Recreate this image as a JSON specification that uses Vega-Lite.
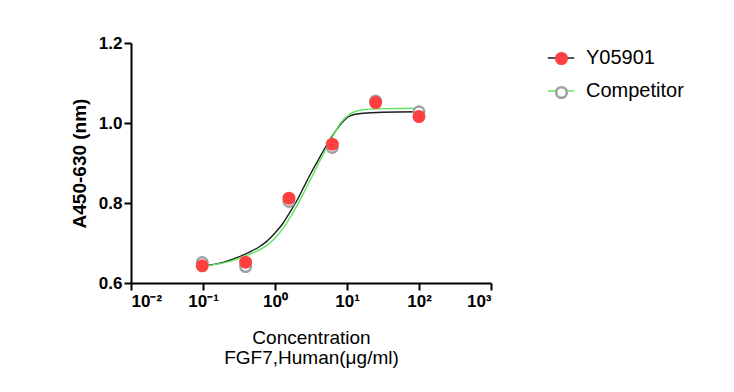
{
  "$schema": "https://vega.github.io/schema/vega-lite/v6.json",
  "width": 360,
  "height": 240,
  "autosize": {"type": "none"},
  "padding": {"left": 131, "top": 43, "right": 243, "bottom": 109},
  "background": "white",
  "config": {
    "view": {"stroke": null},
    "font": "Liberation Sans",
    "axis": {
      "domainColor": "black", "domainWidth": 2, "tickColor": "black", "tickWidth": 2, "tickSize": 7,
      "grid": false, "labelFont": "Liberation Sans", "labelFontWeight": "bold", "labelFontSize": 17,
      "labelColor": "black", "titleFont": "Liberation Sans", "titleColor": "black", "titleFontSize": 19
    }
  },
  "datasets": {
    "curves": [
      {"conc": 0.0977, "value": 0.643, "curve": "Y05901"},
      {"conc": 0.125, "value": 0.645, "curve": "Y05901"},
      {"conc": 0.2, "value": 0.653, "curve": "Y05901"},
      {"conc": 0.3, "value": 0.664, "curve": "Y05901"},
      {"conc": 0.45, "value": 0.678, "curve": "Y05901"},
      {"conc": 0.6, "value": 0.69, "curve": "Y05901"},
      {"conc": 0.767, "value": 0.704, "curve": "Y05901"},
      {"conc": 1.0, "value": 0.725, "curve": "Y05901"},
      {"conc": 1.3, "value": 0.75, "curve": "Y05901"},
      {"conc": 1.6, "value": 0.776, "curve": "Y05901"},
      {"conc": 2.0, "value": 0.805, "curve": "Y05901"},
      {"conc": 2.5, "value": 0.839, "curve": "Y05901"},
      {"conc": 3.06, "value": 0.87, "curve": "Y05901"},
      {"conc": 4.0, "value": 0.908, "curve": "Y05901"},
      {"conc": 5.22, "value": 0.945, "curve": "Y05901"},
      {"conc": 7.08, "value": 0.982, "curve": "Y05901"},
      {"conc": 8.0, "value": 0.995, "curve": "Y05901"},
      {"conc": 11.0, "value": 1.018, "curve": "Y05901"},
      {"conc": 16.7, "value": 1.0245, "curve": "Y05901"},
      {"conc": 31.6, "value": 1.027, "curve": "Y05901"},
      {"conc": 100, "value": 1.028, "curve": "Y05901"},
      {"conc": 0.0977, "value": 0.642, "curve": "Competitor"},
      {"conc": 0.2, "value": 0.651, "curve": "Competitor"},
      {"conc": 0.3, "value": 0.66, "curve": "Competitor"},
      {"conc": 0.45, "value": 0.672, "curve": "Competitor"},
      {"conc": 0.767, "value": 0.694, "curve": "Competitor"},
      {"conc": 1.0, "value": 0.712, "curve": "Competitor"},
      {"conc": 1.3, "value": 0.737, "curve": "Competitor"},
      {"conc": 1.6, "value": 0.762, "curve": "Competitor"},
      {"conc": 2.0, "value": 0.792, "curve": "Competitor"},
      {"conc": 2.5, "value": 0.825, "curve": "Competitor"},
      {"conc": 3.06, "value": 0.856, "curve": "Competitor"},
      {"conc": 4.0, "value": 0.898, "curve": "Competitor"},
      {"conc": 5.22, "value": 0.938, "curve": "Competitor"},
      {"conc": 7.08, "value": 0.982, "curve": "Competitor"},
      {"conc": 8.0, "value": 0.998, "curve": "Competitor"},
      {"conc": 11.0, "value": 1.022, "curve": "Competitor"},
      {"conc": 16.7, "value": 1.033, "curve": "Competitor"},
      {"conc": 31.6, "value": 1.036, "curve": "Competitor"},
      {"conc": 100, "value": 1.037, "curve": "Competitor"}
    ],
    "points": [
      {"conc": 0.09765625, "value": 0.651, "series": "Competitor"},
      {"conc": 0.390625, "value": 0.641, "series": "Competitor"},
      {"conc": 1.5625, "value": 0.804, "series": "Competitor"},
      {"conc": 6.25, "value": 0.939, "series": "Competitor"},
      {"conc": 25, "value": 1.055, "series": "Competitor"},
      {"conc": 100, "value": 1.028, "series": "Competitor"},
      {"conc": 0.09765625, "value": 0.643, "series": "Y05901"},
      {"conc": 0.390625, "value": 0.652, "series": "Y05901"},
      {"conc": 1.5625, "value": 0.812, "series": "Y05901"},
      {"conc": 6.25, "value": 0.947, "series": "Y05901"},
      {"conc": 25, "value": 1.051, "series": "Y05901"},
      {"conc": 100, "value": 1.016, "series": "Y05901"}
    ]
  },
  "encoding": {
    "x": {
      "field": "conc", "type": "quantitative",
      "scale": {"type": "log", "domain": [0.01, 1000]},
      "axis": {
        "values": [0.01, 0.1, 1, 10, 100, 1000],
        "labelExpr": "datum.value < 0.05 ? '10⁻²' : datum.value < 0.5 ? '10⁻¹' : datum.value < 5 ? '10⁰' : datum.value < 50 ? '10¹' : datum.value < 500 ? '10²' : '10³'",
        "title": ["Concentration", "FGF7,Human(μg/ml)"],
        "titleFontWeight": "normal", "titleLineHeight": 20, "titlePadding": 19, "labelPadding": 3
      }
    },
    "y": {
      "field": "value", "type": "quantitative",
      "scale": {"domain": [0.6, 1.2]},
      "axis": {
        "values": [0.6, 0.8, 1.0, 1.2], "format": ".1f",
        "title": "A450-630 (nm)", "titleFontWeight": "bold", "titlePadding": 9, "labelPadding": 2
      }
    }
  },
  "layer": [
    {
      "data": {"name": "curves"},
      "mark": {"type": "line", "interpolate": "monotone", "strokeWidth": 1.4},
      "encoding": {
        "color": {
          "field": "curve", "type": "nominal",
          "sort": ["Y05901", "Competitor"],
          "scale": {"range": ["#1e1e1e", "#5EE65E"]},
          "legend": {
            "orient": "none", "legendX": 416, "legendY": 1, "title": null,
            "symbolType": "stroke", "symbolSize": 700, "symbolStrokeWidth": 1.5,
            "labelFontSize": 20, "labelFont": "Liberation Sans", "labelColor": "black",
            "labelOffset": 11, "rowPadding": 9, "padding": 0
          }
        }
      }
    },
    {
      "data": {"name": "points"},
      "mark": {"type": "circle", "size": 110, "strokeWidth": 2.5, "opacity": 1},
      "encoding": {
        "fill": {
          "field": "series", "type": "nominal",
          "scale": {"domain": ["Y05901", "Competitor"], "range": ["#FF4040", "#FFFFFF"]},
          "legend": {
            "orient": "none", "legendX": 416, "legendY": 1, "title": null,
            "symbolType": "M-0.4,0A0.4,0.4,0,1,1,0.4,0A0.4,0.4,0,1,1,-0.4,0Z",
            "symbolSize": 700, "symbolStrokeWidth": 2.5, "symbolOpacity": 1,
            "labelFontSize": 20, "labelFont": "Liberation Sans", "labelExpr": "' '",
            "labelOffset": 11, "rowPadding": 9, "padding": 0
          }
        },
        "stroke": {
          "field": "series", "type": "nominal",
          "scale": {"domain": ["Y05901", "Competitor"], "range": ["#FF4040", "#A0A0A0"]},
          "legend": {
            "orient": "none", "legendX": 416, "legendY": 1, "title": null,
            "symbolType": "M-0.4,0A0.4,0.4,0,1,1,0.4,0A0.4,0.4,0,1,1,-0.4,0Z",
            "symbolSize": 700, "symbolStrokeWidth": 2.5, "symbolOpacity": 1,
            "labelFontSize": 20, "labelFont": "Liberation Sans", "labelExpr": "' '",
            "labelOffset": 11, "rowPadding": 9, "padding": 0
          }
        }
      }
    }
  ]
}
